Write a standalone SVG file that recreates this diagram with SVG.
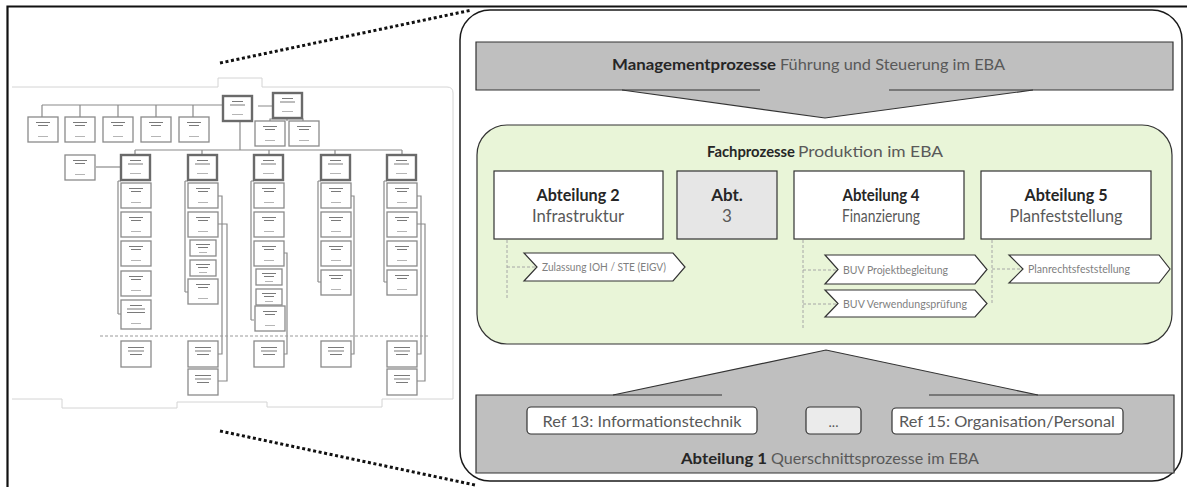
<svg xmlns="http://www.w3.org/2000/svg" xmlns:xlink="http://www.w3.org/1999/xlink" width="1187" height="487" viewBox="0 0 1187 487">
<style>
.ob{fill:#fff;stroke:#8a8a8a;stroke-width:1.3}
.abx{fill:#fff;stroke:#6a6a6a;stroke-width:2.4}
.tt{fill:#7a7a7a}
.tn{fill:#b5b5b5}
.oc{fill:none;stroke:#8a8a8a;stroke-width:1.2}
.pg{fill:none;stroke:#d4d4d4;stroke-width:1}
.dot{fill:none;stroke:#111;stroke-width:3;stroke-dasharray:3 2.6}
.edge{stroke:#333;stroke-width:1.2;fill:none}
.box{fill:#fff;stroke:#333;stroke-width:1.2}
.chev{fill:#fff;stroke:#333;stroke-width:1.2}
.dash{fill:none;stroke:#a6a6a6;stroke-width:1;stroke-dasharray:3 2}
.b{font-family:Lato,"Open Sans",sans-serif;font-weight:bold;fill:#262626}
.r{font-family:Lato,"Open Sans",sans-serif;fill:#595959}
.c{font-family:Lato,"Open Sans",sans-serif;fill:#7f7f7f;font-size:10.5px}
</style>
<defs>
<g id="sb"><rect x="0" y="0" width="30" height="25" class="ob"/><rect x="8" y="5" width="14" height="1" class="tt"/><rect x="10" y="8" width="10" height="1" class="tt"/><rect x="10" y="19" width="10" height="1" class="tn"/></g>
<g id="sb2"><rect x="0" y="0" width="30" height="29" class="ob"/><rect x="9" y="5" width="12" height="1" class="tt"/><rect x="6" y="8.5" width="18" height="1" class="tt"/><rect x="6" y="12" width="18" height="1" class="tt"/><rect x="10" y="23" width="10" height="1" class="tn"/></g>
<g id="ab"><rect x="0" y="0" width="29" height="25" class="abx"/><rect x="9" y="5" width="11" height="1" class="tt"/><rect x="7" y="8.5" width="15" height="1" class="tt"/><rect x="9" y="18" width="11" height="1" class="tn"/></g>
<g id="sm"><rect x="0" y="0" width="26" height="16" class="ob"/><rect x="6" y="4" width="14" height="1" class="tt"/><rect x="8" y="7" width="10" height="1" class="tt"/><rect x="9" y="12" width="8" height="1" class="tn"/></g>
<g id="lb"><rect x="0" y="0" width="30" height="26" class="ob"/><rect x="7" y="6" width="16" height="1" class="tt"/><rect x="7" y="9.5" width="16" height="1" class="tt"/><rect x="9" y="13" width="12" height="1" class="tt"/></g>
</defs>
<rect x="0" y="0" width="1187" height="487" fill="#fff"/>

<!-- frame lines -->
<g id="frame">
<path d="M7.5,487 V6.5 H1187" fill="none" stroke="#111" stroke-width="2.2"/>
</g>

<!-- org chart thumbnail -->
<g id="orgchart">
<path class="pg" d="M12,87 H218 V78 H262 V87 H447 Q453,87 453,93 V399 H382 V407 H267 V402 H177 V408 H62 V399 H12"/>
<g class="oc">
<path d="M42,105 H223 M42,105 V117 M80,105 V117 M118,105 V117 M156,105 V117 M193,105 V117"/>
<path d="M258,106 H273 M287,117 V121 M270,121 V119 H303 V121"/>
<path d="M240,117 V150 M135,150 H402 M135,150 V155 M202,150 V155 M269,150 V155 M335,150 V155 M402,150 V155"/>
<path d="M96,167 H121"/>
<path d="M118,181 V314 M121,181 H118 M121,314 H118"/>
<path d="M185,181 V292 M188,181 H185 M188,292 H185"/>
<path d="M251,181 V320 M254,181 H251 M254,320 H251"/>
<path d="M318,181 V282 M321,181 H318 M321,282 H318"/>
<path d="M384,181 V282 M387,181 H384 M387,282 H384"/>
<path d="M218,196 H222 V354 H218 M218,224 H227 V381 H218"/>
<path d="M283,253 H287 V354 H283"/>
<path d="M350,196 H354 V354 H350"/>
<path d="M417,196 H421 V354 H417 M417,224 H425 V381 H417"/>
</g>
<path d="M100,336 H430" stroke="#9a9a9a" stroke-width="1" stroke-dasharray="3 2"/>
<use href="#ab" x="223" y="96"/>
<use href="#ab" x="273" y="93"/>
<use href="#sb" x="28" y="117"/><use href="#sb" x="65" y="117"/><use href="#sb" x="103" y="117"/><use href="#sb" x="141" y="117"/><use href="#sb" x="179" y="117"/>
<use href="#sb" x="255" y="121"/><use href="#sb" x="289" y="121"/>
<use href="#sb" x="65" y="155"/>
<use href="#ab" x="121" y="155"/><use href="#ab" x="188" y="155"/><use href="#ab" x="254" y="155"/><use href="#ab" x="321" y="155"/><use href="#ab" x="387" y="155"/>
<use href="#sb" x="121" y="183"/><use href="#sb" x="121" y="212"/><use href="#sb" x="121" y="241"/><use href="#sb" x="121" y="271"/><use href="#sb2" x="121" y="300"/>
<use href="#sb" x="188" y="183"/><use href="#sb" x="188" y="212"/><use href="#sm" x="190" y="240"/><use href="#sm" x="190" y="260"/><use href="#sb" x="188" y="279"/>
<use href="#sb" x="254" y="183"/><use href="#sb" x="254" y="212"/><use href="#sb" x="254" y="241"/><use href="#sm" x="256" y="269"/><use href="#sm" x="256" y="289"/><use href="#sb" x="255" y="306"/>
<use href="#sb" x="321" y="183"/><use href="#sb" x="321" y="212"/><use href="#sb" x="321" y="241"/><use href="#sb" x="321" y="270"/>
<use href="#sb" x="387" y="183"/><use href="#sb" x="387" y="212"/><use href="#sb" x="387" y="241"/><use href="#sb" x="387" y="270"/>
<use href="#lb" x="121" y="341"/><use href="#lb" x="188" y="341"/><use href="#lb" x="188" y="369"/><use href="#lb" x="254" y="341"/><use href="#lb" x="321" y="341"/><use href="#lb" x="387" y="341"/><use href="#lb" x="387" y="369"/>
</g>

<!-- zoom dotted lines -->
<g id="zoomlines">
<path class="dot" d="M220,63 L472,10"/>
<path class="dot" d="M220,431 L475,485"/>
</g>

<!-- right panel -->
<rect id="panel" x="460" y="10" width="722" height="471" rx="30" fill="#fff" stroke="#1a1a1a" stroke-width="1.5"/>

<g id="management">
<path d="M476,42 H1173 V90 H1033 L825,118 L622,90 H476 Z" fill="#bfbfbf"/>
<path class="edge" d="M760,90 H476 V42 H1173 V90 H889"/>
<path class="edge" d="M622,90 L825,118 L1033,90"/>
<text class="b" x="612" y="70" font-size="16" textLength="164" lengthAdjust="spacingAndGlyphs">Managementprozesse</text>
<text class="r" x="780" y="70" font-size="16" textLength="225" lengthAdjust="spacingAndGlyphs">Führung und Steuerung im EBA</text>
</g>

<g id="fachprozesse">
<rect x="477" y="125" width="695" height="219" rx="30" fill="#e9f5d8" stroke="#333" stroke-width="1.2"/>
<text class="b" x="707" y="157" font-size="15" textLength="88" lengthAdjust="spacingAndGlyphs">Fachprozesse</text>
<text class="r" x="798" y="157" font-size="15" textLength="145" lengthAdjust="spacingAndGlyphs">Produktion im EBA</text>
</g>

<g id="abt2">
<rect class="box" x="494" y="171" width="169" height="68"/>
<text class="b" x="578" y="201" font-size="17" text-anchor="middle" textLength="83" lengthAdjust="spacingAndGlyphs">Abteilung 2</text>
<text class="r" x="578" y="222" font-size="17" text-anchor="middle" textLength="92" lengthAdjust="spacingAndGlyphs">Infrastruktur</text>
</g>
<g id="abt3">
<rect x="677" y="171" width="100" height="68" fill="#e6e6e6" stroke="#333" stroke-width="1.2"/>
<text class="b" x="727" y="201" font-size="17" text-anchor="middle">Abt.</text>
<text class="r" x="727" y="222" font-size="17" text-anchor="middle">3</text>
</g>
<g id="abt4">
<rect class="box" x="794" y="171" width="170" height="68"/>
<text class="b" x="881" y="201" font-size="17" text-anchor="middle" textLength="77" lengthAdjust="spacingAndGlyphs">Abteilung 4</text>
<text class="r" x="881" y="222" font-size="17" text-anchor="middle" textLength="78" lengthAdjust="spacingAndGlyphs">Finanzierung</text>
</g>
<g id="abt5">
<rect class="box" x="981" y="171" width="170" height="68"/>
<text class="b" x="1066" y="201" font-size="17" text-anchor="middle" textLength="83" lengthAdjust="spacingAndGlyphs">Abteilung 5</text>
<text class="r" x="1066" y="222" font-size="17" text-anchor="middle" textLength="113" lengthAdjust="spacingAndGlyphs">Planfeststellung</text>
</g>

<g id="connectors">
<path class="dash" d="M507,240 V298 M507,267 H535"/>
<path class="dash" d="M803,240 V330 M803,270 H836 M803,304 H836"/>
<path class="dash" d="M992,240 V303 M992,269 H1021"/>
</g>

<g id="zulassung">
<path class="chev" d="M524,253 H673 L685,267 L673,281 H524 L537,267 Z"/>
<text class="c" x="542" y="271" textLength="124" lengthAdjust="spacingAndGlyphs">Zulassung IOH / STE (EIGV)</text>
</g>
<g id="buv-projekt">
<path class="chev" d="M825,255 H975 L987,269.5 L975,284 H825 L838,269.5 Z"/>
<text class="c" x="843" y="274" textLength="105" lengthAdjust="spacingAndGlyphs">BUV Projektbegleitung</text>
</g>
<g id="buv-verw">
<path class="chev" d="M825,290 H975 L987,303.5 L975,317 H825 L838,303.5 Z"/>
<text class="c" x="843" y="308" textLength="124" lengthAdjust="spacingAndGlyphs">BUV Verwendungsprüfung</text>
</g>
<g id="planrecht">
<path class="chev" d="M1009,255 H1159 L1170,269 L1159,283 H1009 L1023,269 Z"/>
<text class="c" x="1028" y="273" textLength="102" lengthAdjust="spacingAndGlyphs">Planrechtsfeststellung</text>
</g>

<g id="abteilung1">
<path d="M476,395 H613 L826,350 L1038,395 H1174 V473 H476 Z" fill="#bfbfbf"/>
<path class="edge" d="M722,395 H476 V473 H1174 V395 H929"/>
<path class="edge" d="M613,395 L826,350 L1038,395"/>
<text class="b" x="681" y="464" font-size="16" textLength="86" lengthAdjust="spacingAndGlyphs">Abteilung 1</text>
<text class="r" x="771" y="464" font-size="16" textLength="208" lengthAdjust="spacingAndGlyphs">Querschnittsprozesse im EBA</text>
</g>
<g id="ref13">
<rect class="box" x="527" y="407" width="230" height="27" rx="4"/>
<text class="r" x="642" y="427" font-size="16" text-anchor="middle" textLength="199" lengthAdjust="spacingAndGlyphs">Ref 13: Informationstechnik</text>
</g>
<g id="refdots">
<rect x="806" y="407" width="55" height="27" rx="4" fill="#ebebeb" stroke="#333" stroke-width="1.2"/>
<text class="r" x="833.5" y="427" font-size="14" text-anchor="middle">...</text>
</g>
<g id="ref15">
<rect class="box" x="892" y="408" width="231" height="26" rx="4"/>
<text class="r" x="1007" y="427" font-size="16" text-anchor="middle" textLength="216" lengthAdjust="spacingAndGlyphs">Ref 15: Organisation/Personal</text>
</g>
</svg>
